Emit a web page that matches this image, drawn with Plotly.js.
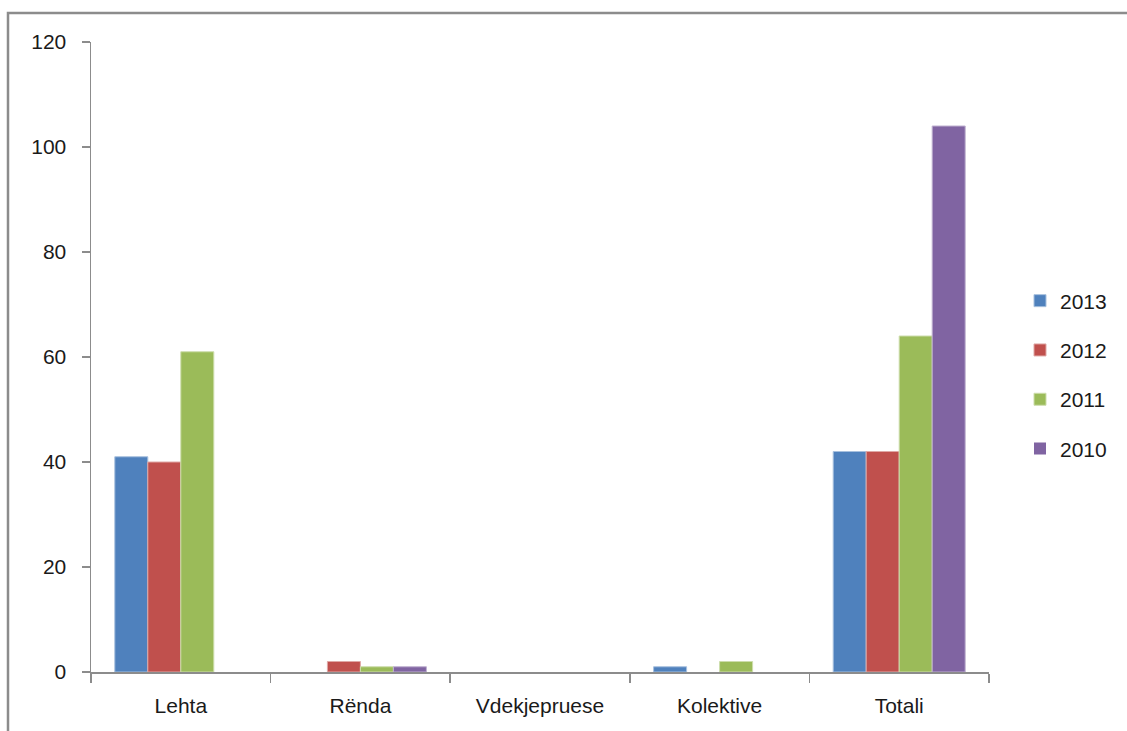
<!DOCTYPE html>
<html>
<head>
<meta charset="utf-8">
<script src="https://cdn.plot.ly/plotly-3.0.1.min.js"></script>
<style>
html,body{margin:0;padding:0;background:#fff;overflow:hidden;}
#chart{width:1127px;height:731px;}
</style>
</head>
<body>
<div id="chart"></div>
<script>
const categories = ["Lehta", "Rënda", "Vdekjepruese", "Kolektive", "Totali"];
const seriesNames = ["2013", "2012", "2011", "2010"];
const v2013 = [41, 0, 0, 1, 42];
const v2012 = [40, 2, 0, 0, 42];
const v2011 = [61, 1, 0, 2, 64];
const v2010 = [0, 1, 0, 0, 104];
const yTicks = [0, 20, 40, 60, 80, 100, 120];

const values = [v2013, v2012, v2011, v2010];
const colors = ["#4F81BD", "#C0504D", "#9BBB59", "#8064A2"];
const edges = ["#A7C0DE", "#DFA8A6", "#CDDDAC", "#BFB1D0"];

const traces = seriesNames.map((n, i) => ({
  type: "bar",
  name: n,
  x: categories,
  y: values[i],
  legendgroup: n,
  marker: {color: colors[i], line: {color: edges[i], width: values[i].map(v => v > 0 ? 1 : 0)}}
}));

const W = 1127, H = 731, L = 91, R = 989, T = 42, B = 672;
const pw = R - L, ph = B - T;

const layout = {
  width: W, height: H,
  margin: {l: L, r: W - R, t: T, b: H - B, pad: 0},
  paper_bgcolor: "#fff",
  plot_bgcolor: "#fff",
  font: {family: "Liberation Sans, Arial, sans-serif", size: 21, color: "#1a1a1a"},
  barmode: "group",
  bargap: 0.265,
  bargroupgap: 0,
  showlegend: true,
  legend: {
    x: (1020 - L) / pw, xanchor: "left",
    y: (B - 375) / ph, yanchor: "middle",
    font: {size: 21, color: "#1a1a1a"},
    tracegroupgap: 19,
    itemwidth: 30,
    bgcolor: "rgba(0,0,0,0)"
  },
  xaxis: {
    type: "category",
    showline: true, linecolor: "#8C8C8C", linewidth: 1.5,
    ticks: "outside", tickson: "boundaries", ticklen: 9, tickcolor: "#8C8C8C", tickwidth: 1.5,
    showgrid: false, zeroline: false,
    ticklabelstandoff: 14,
    fixedrange: true
  },
  yaxis: {
    range: [0, 120],
    tickvals: yTicks,
    ticktext: yTicks.map(String),
    showline: true, linecolor: "#8C8C8C", linewidth: 1.5,
    ticks: "outside", ticklen: 8, tickcolor: "#8C8C8C", tickwidth: 1.5,
    showgrid: false, zeroline: false,
    ticklabelstandoff: 11,
    fixedrange: true
  },
  shapes: [{
    type: "rect", xref: "paper", yref: "paper",
    x0: (8 - L) / pw, x1: (1200 - L) / pw,
    y0: (B - 800) / ph, y1: (B - 13) / ph,
    line: {color: "#8C8C8C", width: 2.5},
    fillcolor: "rgba(0,0,0,0)"
  }]
};

Plotly.newPlot("chart", traces, layout, {displayModeBar: false, staticPlot: true});
</script>
</body>
</html>
